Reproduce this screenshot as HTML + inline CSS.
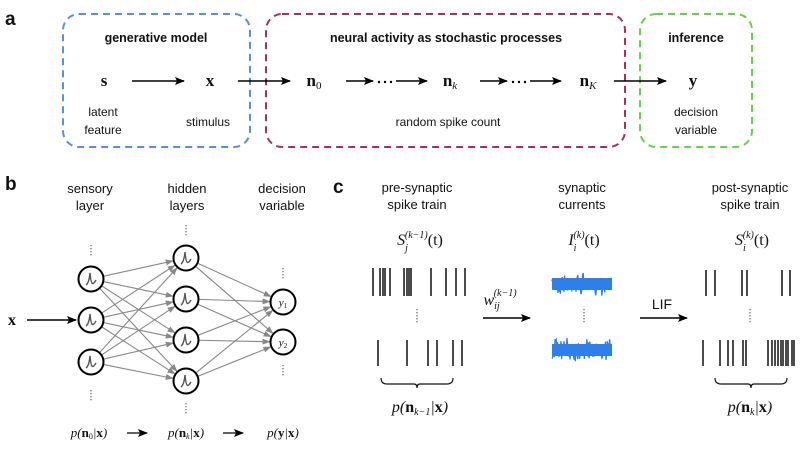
<!DOCTYPE html>
<html><head><meta charset="utf-8"><style>
html,body{margin:0;padding:0;background:#fff}
svg{display:block}
text{font-family:"Liberation Sans",sans-serif;fill:#111}
.m{font-family:"Liberation Serif",serif}
</style></head><body>
<svg id="s" width="810" height="453" viewBox="0 0 810 453" xmlns="http://www.w3.org/2000/svg">
<defs>
<marker id="ah" markerWidth="10" markerHeight="8" refX="9" refY="4" orient="auto" markerUnits="userSpaceOnUse"><path d="M0,0 L10,4 L0,8 L2,4z" fill="#000"/></marker>
<marker id="ag" markerWidth="8" markerHeight="6" refX="7" refY="3" orient="auto" markerUnits="userSpaceOnUse"><path d="M0,0 L8,3 L0,6z" fill="#888"/></marker>
</defs>
<!-- panel a -->
<text x="5" y="25" font-size="19" font-weight="bold">a</text>
<rect x="63" y="14" width="187" height="133" rx="16" fill="none" stroke="#5b8fde" stroke-width="2" stroke-dasharray="7,5"/>
<rect x="266" y="14" width="359" height="133" rx="16" fill="none" stroke="#a83256" stroke-width="2" stroke-dasharray="7,5"/>
<rect x="640" y="14" width="112" height="133" rx="16" fill="none" stroke="#66d14a" stroke-width="2" stroke-dasharray="7,5"/>
<g font-size="12.5" font-weight="bold" text-anchor="middle">
<text x="156" y="42">generative model</text>
<text x="446" y="42">neural activity as stochastic processes</text>
<text x="696" y="42">inference</text>
</g>
<g font-size="17" font-weight="bold" text-anchor="middle">
<text class="m" x="104" y="86">s</text>
<text class="m" x="210" y="86">x</text>
<text class="m" x="314" y="86">n<tspan font-size="11" font-weight="normal" dy="3">0</tspan></text>
<text class="m" x="450" y="86">n<tspan font-size="11" font-weight="normal" font-style="italic" dy="3">k</tspan></text>
<text class="m" x="588" y="86">n<tspan font-size="11" font-weight="normal" font-style="italic" dy="3">K</tspan></text>
<text class="m" x="693" y="86">y</text>
</g>
<g stroke="#000" stroke-width="1.6" marker-end="url(#ah)">
<line x1="132" y1="81" x2="184" y2="81"/>
<line x1="238" y1="81" x2="290" y2="81"/>
<line x1="346" y1="81" x2="373" y2="81"/>
<line x1="396" y1="81" x2="427" y2="81"/>
<line x1="480" y1="81" x2="507" y2="81"/>
<line x1="530" y1="81" x2="561" y2="81"/>
<line x1="614" y1="81" x2="666" y2="81"/>
</g>
<g fill="#000">
<circle cx="379" cy="82" r="1.2"/><circle cx="385" cy="82" r="1.2"/><circle cx="391" cy="82" r="1.2"/>
<circle cx="513" cy="82" r="1.2"/><circle cx="519" cy="82" r="1.2"/><circle cx="525" cy="82" r="1.2"/>
</g>
<g font-size="12" text-anchor="middle">
<text x="103" y="116">latent</text><text x="103" y="134">feature</text>
<text x="208" y="126">stimulus</text>
<text x="448" y="126">random spike count</text>
<text x="696" y="116">decision</text><text x="696" y="134">variable</text>
</g>
<!-- panel b -->
<text x="5" y="190" font-size="19" font-weight="bold">b</text>
<g font-size="13" text-anchor="middle">
<text x="90" y="193">sensory</text><text x="90" y="210">layer</text>
<text x="187" y="193">hidden</text><text x="187" y="210">layers</text>
<text x="282" y="193">decision</text><text x="282" y="210">variable</text>
</g>
<g id="edges" stroke="#888" stroke-width="1.1"></g>
<g id="nodes"></g>
<text class="m" x="8" y="325" font-size="16" font-weight="bold">x</text>
<line x1="27" y1="320" x2="76" y2="320" stroke="#000" stroke-width="1.5" marker-end="url(#ah)"/>
<g fill="#444" id="vd"></g>
<g font-size="13" font-style="italic" text-anchor="middle">
<text class="m" x="89" y="437">p(<tspan font-weight="bold" font-style="normal">n</tspan><tspan font-size="8" font-style="normal" dy="2">0</tspan><tspan dy="-2">|</tspan><tspan font-weight="bold" font-style="normal">x</tspan>)</text>
<text class="m" x="186" y="437">p(<tspan font-weight="bold" font-style="normal">n</tspan><tspan font-size="8" dy="2">k</tspan><tspan dy="-2">|</tspan><tspan font-weight="bold" font-style="normal">x</tspan>)</text>
<text class="m" x="283" y="437">p(<tspan font-weight="bold" font-style="normal">y</tspan>|<tspan font-weight="bold" font-style="normal">x</tspan>)</text>
</g>
<g stroke="#000" stroke-width="1.2" marker-end="url(#ah)">
<line x1="127" y1="433" x2="147" y2="433"/>
<line x1="223" y1="433" x2="243" y2="433"/>
</g>
<!-- panel c -->
<text x="333" y="193" font-size="19" font-weight="bold">c</text>
<g font-size="13" text-anchor="middle">
<text x="417" y="192">pre-synaptic</text><text x="417" y="209">spike train</text>
<text x="582" y="192">synaptic</text><text x="582" y="209">currents</text>
<text x="750" y="192">post-synaptic</text><text x="750" y="209">spike train</text>
</g>
<g font-size="16" font-style="italic" text-anchor="middle">
<text class="m" x="420" y="245">S<tspan font-size="10" dy="6" dx="0">j</tspan><tspan font-size="10" dy="-13" dx="-3">(k−1)</tspan><tspan dy="7" font-style="normal">(t)</tspan></text>
<text class="m" x="584" y="245">I<tspan font-size="10" dy="6">i</tspan><tspan font-size="10" dy="-13" dx="-3">(k)</tspan><tspan dy="7" font-style="normal">(t)</tspan></text>
<text class="m" x="752" y="245">S<tspan font-size="10" dy="6">i</tspan><tspan font-size="10" dy="-13" dx="-3">(k)</tspan><tspan dy="7" font-style="normal">(t)</tspan></text>
<text class="m" x="500" y="305">w<tspan font-size="10" dy="4">ij</tspan><tspan font-size="10" dy="-13" dx="-6">(k−1)</tspan></text>
</g>
<text x="662" y="309" font-size="14" text-anchor="middle">LIF</text>
<g stroke="#000" stroke-width="1.4" marker-end="url(#ah)">
<line x1="483" y1="318" x2="530" y2="318"/>
<line x1="640" y1="318" x2="687" y2="318"/>
</g>
<g id="spk" stroke="#111" stroke-width="1.5"></g>
<g id="noise" stroke="#2f7fe8" stroke-width="1" fill="none"></g>
<g fill="none" stroke="#111" stroke-width="1.2">
<path d="M381,378 q0,6 6,6 h27 q3,0 3,4 q0,-4 3,-4 h27 q6,0 6,-6"/>
<path d="M715,378 q0,6 6,6 h27 q3,0 3,4 q0,-4 3,-4 h27 q6,0 6,-6"/>
</g>
<g font-size="16" text-anchor="middle" font-style="italic">
<text class="m" x="420" y="412">p(<tspan font-weight="bold" font-style="normal">n</tspan><tspan font-size="10" dy="3">k−1</tspan><tspan dy="-3">|</tspan><tspan font-weight="bold" font-style="normal">x</tspan>)</text>
<text class="m" x="750" y="412">p(<tspan font-weight="bold" font-style="normal">n</tspan><tspan font-size="10" dy="3">k</tspan><tspan dy="-3">|</tspan><tspan font-weight="bold" font-style="normal">x</tspan>)</text>
</g>
<script>
(function(){
var NS="http://www.w3.org/2000/svg";
function el(p,t,a){var e=document.createElementNS(NS,t);for(var k in a)e.setAttribute(k,a[k]);document.getElementById(p).appendChild(e);return e;}
var L1=[[91,279],[91,320],[91,362]],L2=[[186,258],[186,299],[186,340],[186,381]],L3=[[283,302],[283,342]];
var r=12.5;
function conn(A,B){A.forEach(function(a){B.forEach(function(b){var dx=b[0]-a[0],dy=b[1]-a[1],d=Math.hypot(dx,dy);
el("edges","line",{x1:a[0]+dx/d*r,y1:a[1]+dy/d*r,x2:b[0]-dx/d*(r+1),y2:b[1]-dy/d*(r+1),"marker-end":"url(#ag)"});});});}
conn(L1,L2);conn(L2,L3);
L1.concat(L2).forEach(function(c){el("nodes","circle",{cx:c[0],cy:c[1],r:r,fill:"#fff",stroke:"#000","stroke-width":2});
el("nodes","path",{d:"M"+(c[0]-5)+","+(c[1]+6)+" q3,-2 4,-12 q1,10 2,10 q1,2 4,-3",fill:"none",stroke:"#555","stroke-width":1.4});});
L3.forEach(function(c,i){el("nodes","circle",{cx:c[0],cy:c[1],r:r,fill:"#fff",stroke:"#000","stroke-width":2});
var t=el("nodes","text",{x:c[0],y:c[1]+4,"font-size":11,"text-anchor":"middle","class":"m","font-style":"italic"});t.textContent="y";
var s=document.createElementNS(NS,"tspan");s.setAttribute("font-size","7");s.setAttribute("font-style","normal");s.setAttribute("dy","2");s.textContent=i+1;t.appendChild(s);});
function vdots(x,y){for(var i=0;i<4;i++)el("vd","rect",{x:x-0.5,y:y+i*3,width:1,height:1.3});}
vdots(91,245);vdots(91,390);vdots(186,225);vdots(186,403);vdots(283,268);vdots(283,365);
vdots(417,309);vdots(584,309);vdots(750,309);vdots(417,312);vdots(584,312);vdots(750,312);
function sp(xs,y1,y2){xs.forEach(function(x){el("spk","line",{x1:x,y1:y1,x2:x,y2:y2});});}
sp([373,380,383,385,390,404,407,409,411,431,446,456,465],268,296);
sp([378,407,428,437,453,462],340,366);
sp([706,715,742,747,782,790],270,296);
sp([703,720,728,733,743,746,768,772,775,778,781,783,786,788,792,794],340,366);
var seed=7;function rnd(){seed=(seed*16807)%2147483647;return seed/2147483647;}
function noise(y0){el("noise","rect",{x:552,y:y0-6,width:60,height:12,fill:"#2f7fe8",stroke:"none"});
var d="";for(var x=552;x<=612;x+=0.6){var a=(rnd()-0.5)*14+(rnd()-0.5)*10;d+=(d?"L":"M")+x.toFixed(1)+","+(y0+a).toFixed(1);}
el("noise","path",{d:d,"stroke-width":1.3});}
noise(284);noise(350);
})();
</script>
</svg>
</body></html>
